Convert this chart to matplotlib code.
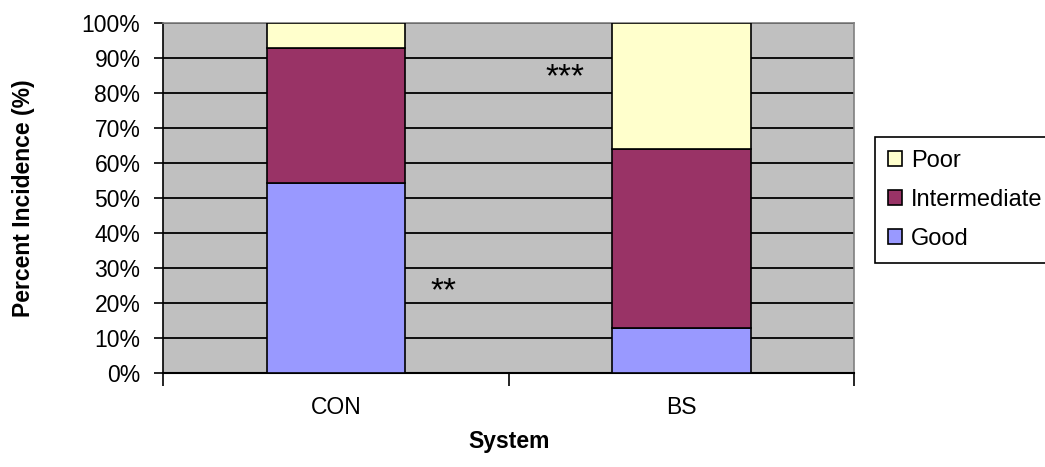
import numpy as np
import matplotlib
matplotlib.use("Agg")
import matplotlib.pyplot as plt

plt.rcParams['font.family'] = ['Liberation Sans', 'DejaVu Sans']

# Data (percent)
systems = ['CON', 'BS']
good = [54.5, 13.0]
intermediate = [38.5, 51.0]
poor = [7.0, 36.0]

fig = plt.figure(figsize=(10.45, 4.67), dpi=100)
ax = fig.add_axes([0.1563, 0.2006, 0.6612, 0.7494])
ax.set_facecolor('#C0C0C0')

x = np.arange(len(systems))
w = 0.4
good_arr = np.array(good)
inter_arr = np.array(intermediate)
b1 = ax.bar(x, good, w, color='#9999FF', edgecolor='black', linewidth=1.2, label='Good', zorder=3)
b2 = ax.bar(x, intermediate, w, bottom=good_arr, color='#993366', edgecolor='black', linewidth=1.2,
            label='Intermediate', zorder=3)
b3 = ax.bar(x, poor, w, bottom=good_arr + inter_arr, color='#FFFFCC', edgecolor='black', linewidth=1.2,
            label='Poor', zorder=3)

ax.set_xlim(-0.5, 1.5)
ax.set_ylim(0, 100)
ax.set_yticks(np.arange(0, 101, 10))
ax.set_yticklabels([f'{v}%' for v in range(0, 101, 10)], fontsize=16.5)
ax.yaxis.grid(True, color='black', linewidth=1.3, zorder=1)
ax.set_axisbelow(True)

# category ticks between groups, labels centered
ax.set_xticks([-0.5, 0.5, 1.5])
ax.set_xticklabels([])
ax.set_xticks(x, minor=True)
ax.set_xticklabels(systems, minor=True, fontsize=16.5)
ax.tick_params(axis='x', which='minor', length=0, pad=16.5)
ax.tick_params(axis='x', which='major', length=9, width=1.2, direction='out')
ax.tick_params(axis='y', length=6.5, width=1.2, direction='out', pad=10)

for side in ['top', 'right']:
    ax.spines[side].set_color('#808080')
    ax.spines[side].set_linewidth(1.2)
ax.spines['left'].set_color('black')
ax.spines['bottom'].set_color('black')
ax.spines['left'].set_linewidth(1.2)
ax.spines['bottom'].set_linewidth(1.5)

ax.set_ylabel('Percent Incidence (%)', fontsize=16.5, fontweight='bold')
ax.yaxis.set_label_coords((35 - 163.3) / 691, 0.5)
ax.set_xlabel('System', fontsize=16.5, fontweight='bold')
ax.xaxis.set_label_coords(0.5, (373.3 - 430) / 350)

# significance marks
ax.text(0.31, 20.8, '**', fontsize=24, ha='center', va='baseline', zorder=4)
ax.text(0.663, 82.0, '***', fontsize=24, ha='center', va='baseline', zorder=4)

leg = ax.legend(handles=[b3, b2, b1], labels=['Poor', 'Intermediate', 'Good'],
                loc='upper left', bbox_to_anchor=(875 / 1045, 1 - 137 / 467),
                bbox_transform=fig.transFigure, fontsize=17, frameon=True, fancybox=False,
                edgecolor='black', framealpha=1, handlelength=0.6, handleheight=0.6,
                handletextpad=0.38, labelspacing=0.72, borderpad=0.55, borderaxespad=0)
leg.get_frame().set_linewidth(1.2)

fig.savefig('out.png', dpi=100)
